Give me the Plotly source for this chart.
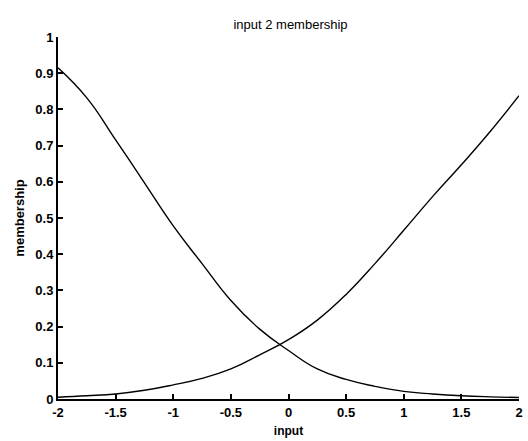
import plotly.graph_objects as go

x_vals = [-2.0, -1.75, -1.5, -1.25, -1.0, -0.75, -0.5, -0.25, 0.0,
          0.25, 0.5, 0.75, 1.0, 1.25, 1.5, 1.75, 2.0]
mf_low = [0.915, 0.832, 0.716, 0.597, 0.478, 0.374, 0.272, 0.193, 0.134,
          0.083, 0.054, 0.035, 0.021, 0.014, 0.009, 0.006, 0.004]
mf_high = [0.005, 0.009, 0.014, 0.024, 0.039, 0.057, 0.083, 0.122, 0.164,
           0.218, 0.289, 0.374, 0.466, 0.559, 0.647, 0.739, 0.838]

x_ticks = [-2, -1.5, -1, -0.5, 0, 0.5, 1, 1.5, 2]
x_tick_text = ["-2", "-1.5", "-1", "-0.5", "0", "0.5", "1", "1.5", "2"]
y_ticks = [0, 0.1, 0.2, 0.3, 0.4, 0.5, 0.6, 0.7, 0.8, 0.9, 1]
y_tick_text = ["0", "0.1", "0.2", "0.3", "0.4", "0.5", "0.6", "0.7", "0.8", "0.9", "1"]

title_text = "input 2 membership"
x_label = "input"
y_label = "membership"

font_family = "Liberation Sans, Arial, sans-serif"

fig = go.Figure()
for series in (mf_low, mf_high):
    fig.add_trace(go.Scatter(
        x=x_vals, y=series, mode="lines",
        line=dict(color="black", width=1.4, shape="spline", smoothing=1.3),
        showlegend=False, hoverinfo="skip"))

fig.update_layout(
    width=528, height=441,
    margin=dict(l=58, r=5, t=37, b=36),
    paper_bgcolor="white", plot_bgcolor="white",
    font=dict(family=font_family, color="black", size=13),
    title=dict(text=title_text, x=(58 + 523) / 2 / 528, xanchor="center",
               y=1 - 24 / 441, yanchor="middle", yref="container",
               font=dict(size=13, family=font_family, color="black")),
    showlegend=False,
)

fig.update_xaxes(
    range=[-2, 2], tickvals=x_ticks, ticktext=x_tick_text,
    showgrid=False, zeroline=False, showline=True, linecolor="black", linewidth=2,
    ticks="inside", ticklen=5, tickwidth=1.5, tickcolor="black",
    tickfont=dict(size=13, family=font_family, color="black", weight="bold"),
    title=dict(text=x_label, standoff=8,
               font=dict(size=12, family=font_family, weight="bold")),
    mirror=False,
)
fig.update_yaxes(
    range=[0, 1], tickvals=y_ticks, ticktext=y_tick_text,
    showgrid=False, zeroline=False, showline=True, linecolor="black", linewidth=2,
    ticks="inside", ticklen=5, tickwidth=1.5, tickcolor="black",
    tickfont=dict(size=13, family=font_family, color="black", weight="bold"),
    title=dict(text=y_label, standoff=8,
               font=dict(size=13, family=font_family, weight="bold")),
    mirror=False,
)

fig.write_html("out.html")
